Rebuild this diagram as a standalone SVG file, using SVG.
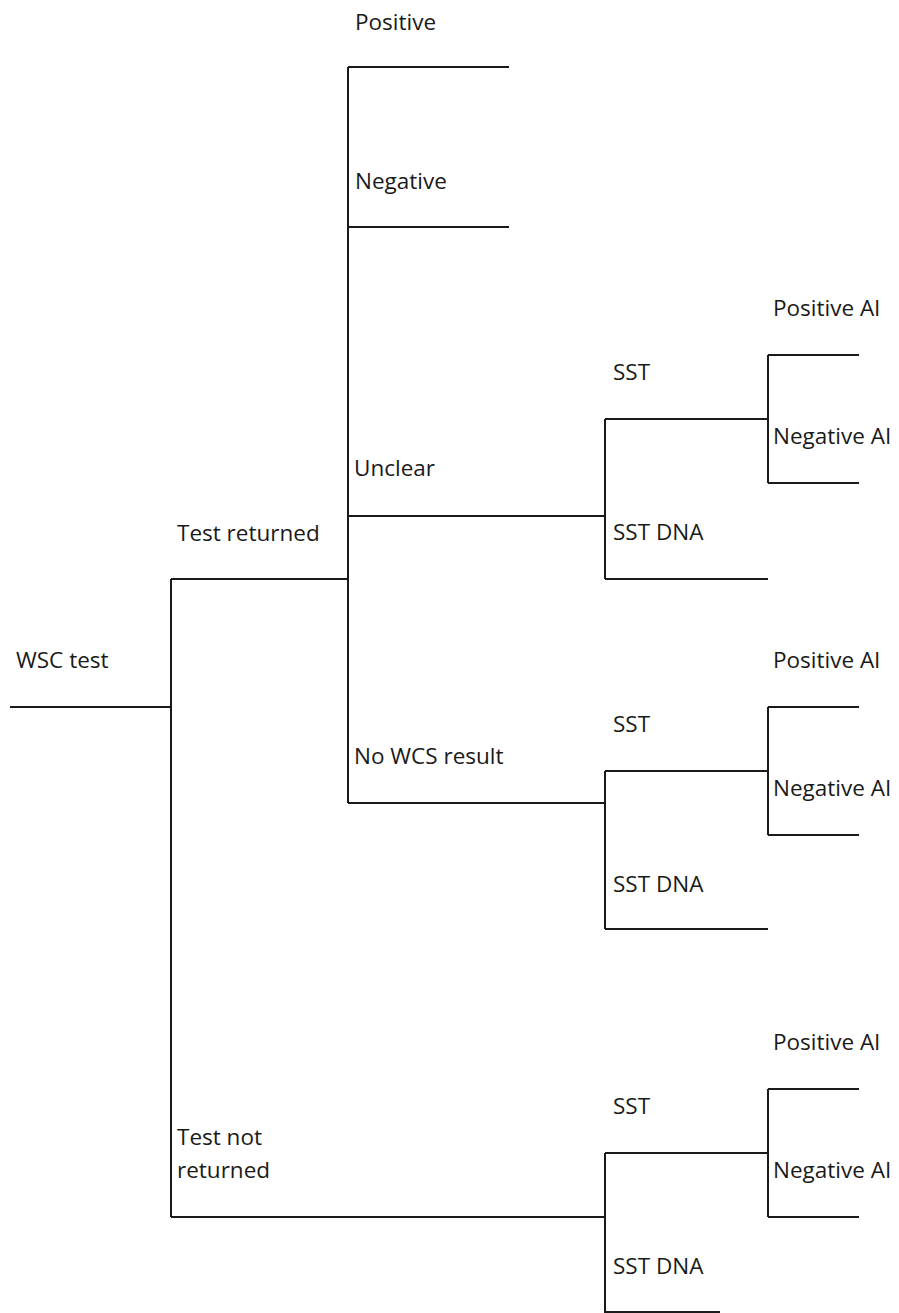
<svg xmlns="http://www.w3.org/2000/svg" width="899" height="1313" viewBox="0 0 899 1313">
<style>
text{font-family:"Open Sans","Liberation Sans",sans-serif;font-size:22.5px;fill:#1a1a1a}
.c path{fill:none;stroke:#1a1a1a;stroke-width:2}
</style>
<rect width="899" height="1313" fill="#fff"/>
<g class="c" id="connectors">
<path d="M10 707H171M171 579V1217M171 579H348M171 1217H605"/>
<path d="M348 67V803M348 67H509M348 227H509M348 516H605M348 803H605"/>
<path d="M605 419V579M605 419H768M605 579H768M768 355V483M768 355H859M768 483H859"/>
<path d="M605 771V929M605 771H768M605 929H768M768 707V835M768 707H859M768 835H859"/>
<path d="M605 1153V1313M605 1153H768M605 1312H720M768 1089V1217M768 1089H859M768 1217H859"/>
</g>
<g id="n-wsc"><text x="16" y="668">WSC test</text></g>
<g id="n-returned"><text x="177" y="541">Test returned</text></g>
<g id="n-notreturned"><text x="177" y="1145">Test not</text><text x="177" y="1178">returned</text></g>
<g id="n-positive"><text x="355" y="30">Positive</text></g>
<g id="n-negative"><text x="355" y="189">Negative</text></g>
<g id="n-unclear"><text x="354" y="476">Unclear</text></g>
<g id="n-nowcs"><text x="354" y="764">No WCS result</text></g>
<g id="n-sst1"><text x="613" y="380">SST</text></g>
<g id="n-sstdna1"><text x="613" y="540">SST DNA</text></g>
<g id="n-pos1"><text x="773" y="316">Positive AI</text></g>
<g id="n-neg1"><text x="773" y="444">Negative AI</text></g>
<g id="n-sst2"><text x="613" y="732">SST</text></g>
<g id="n-sstdna2"><text x="613" y="892">SST DNA</text></g>
<g id="n-pos2"><text x="773" y="668">Positive AI</text></g>
<g id="n-neg2"><text x="773" y="796">Negative AI</text></g>
<g id="n-sst3"><text x="613" y="1114">SST</text></g>
<g id="n-sstdna3"><text x="613" y="1274">SST DNA</text></g>
<g id="n-pos3"><text x="773" y="1050">Positive AI</text></g>
<g id="n-neg3"><text x="773" y="1178">Negative AI</text></g>
</svg>
